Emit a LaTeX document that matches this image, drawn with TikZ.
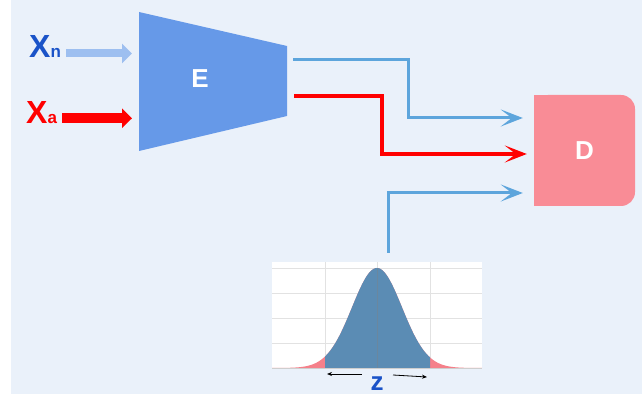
\documentclass[tikz,border=0pt]{standalone}
\usepackage{fontspec}
\setmainfont{Liberation Sans}
\usetikzlibrary{arrows.meta, positioning}

\definecolor{bgblue}{HTML}{EAF1FA}
\definecolor{encblue}{HTML}{6699E8}
\definecolor{lineblue}{HTML}{5DA5DC}
\definecolor{inblue}{HTML}{9DBFF0}
\definecolor{xblue}{HTML}{1A53C8}
\definecolor{dpink}{HTML}{F98C96}
\definecolor{gblue}{HTML}{5B8CB4}
\definecolor{gred}{HTML}{F5808A}
\definecolor{gridgray}{HTML}{E2E2E2}

\begin{document}
\begin{tikzpicture}[x=1pt, y=1pt,
    xl/.style={anchor=base west, inner sep=0, font=\bfseries},
    big/.style={font=\bfseries\fontsize{26}{26}\selectfont, text=white},
    bline/.style={draw=lineblue, line width=3pt, shorten >=11pt,
      -{Stealth[length=22pt, width=17pt, inset=11pt]}},
    rline/.style={draw=red, line width=4pt, shorten >=7pt,
      -{Stealth[length=22pt, width=17pt, inset=11pt]}},
    inarr/.style={line width=#1, shorten <=5pt, shorten >=7pt,
      -{Triangle[length=10pt, width=19pt]}},
    zarr/.style={draw=black, line width=0.8pt, -{Stealth[length=5pt, width=4pt]}},
  ]
  \useasboundingbox (0,0) rectangle (642,396);
  \fill[bgblue] (11,2) rectangle (642,396);

  \coordinate (etl) at (139,384);
  \coordinate (ebl) at (139,245);
  \coordinate (etr) at (287,350);
  \coordinate (ebr) at (287,280);
  \fill[encblue] (etl) -- (etr) -- (ebr) -- (ebl) -- cycle;
  \node[big] (enc) at (200,317) {E};
  \coordinate (in1) at (139,342.5);
  \coordinate (in2) at (139,277.7);
  \coordinate (e1) at (293,336);
  \coordinate (e2) at (294,300);

  \node[xl, text=xblue] (xn) at (29,338) {\fontsize{32}{32}\selectfont X\fontsize{17}{17}\selectfont n};
  \node[xl, text=red] (xa) at (26,272) {\fontsize{32}{32}\selectfont X\fontsize{17}{17}\selectfont a};
  \draw[inarr=8pt, draw=inblue, fill=inblue] (xn.east |- in1) -- (in1);
  \draw[inarr=10pt, draw=red, fill=red] (xa.east |- in2) -- (in2);

  \node[big, fill=dpink, rounded corners=14pt, minimum width=101pt, minimum height=111pt] (dec) at (584.5,245.5) {D};
  \fill[dpink] (dec.north west) rectangle ([xshift=20pt]dec.south west);

  \node[fill=white, inner sep=0, minimum width=210pt, minimum height=106pt] (zplot) at (377,81) {};
  \foreach \gx in {325,377,430}
    \draw[gridgray, line width=0.6pt] (\gx,28) -- (\gx,134);
  \foreach \gy in {53,78,103,128}
    \draw[gridgray, line width=0.6pt] (272,\gy) -- (482,\gy);
  \fill[gred] (272,28) -- plot[domain=272:482, samples=120] (\x, {28+100*exp(-((\x-377)^2)/1250)}) -- (482,28) -- cycle;
  \fill[gblue] (325,28) -- plot[domain=325:430, samples=80] (\x, {28+100*exp(-((\x-377)^2)/1250)}) -- (430,28) -- cycle;
  \draw[gray!40!gblue, line width=0.5pt] (377,28) -- (377,128);
  \draw[gridgray!80!gray, line width=0.6pt] (272,28) -- (482,28);

  \node[font=\bfseries\fontsize{26}{26}\selectfont, text=xblue, inner sep=0] (zlbl) at (377,12) {z};
  \coordinate (za) at (362,22);
  \coordinate (zb) at (327,22);
  \coordinate (zc) at (393,21);
  \coordinate (zd) at (427,19);
  \draw[zarr] (za) -- (zb);
  \draw[zarr] (zc) -- (zd);

  \coordinate (ztop) at (388,143);
  \draw[bline] (e1) -- ++(115,0) |- ([yshift=32.5pt]dec.west);
  \draw[rline] (e2) -- ++(88,0) |- ([yshift=-3.5pt]dec.west);
  \draw[bline] (ztop) |- ([yshift=-42.5pt]dec.west);
\end{tikzpicture}
\end{document}
